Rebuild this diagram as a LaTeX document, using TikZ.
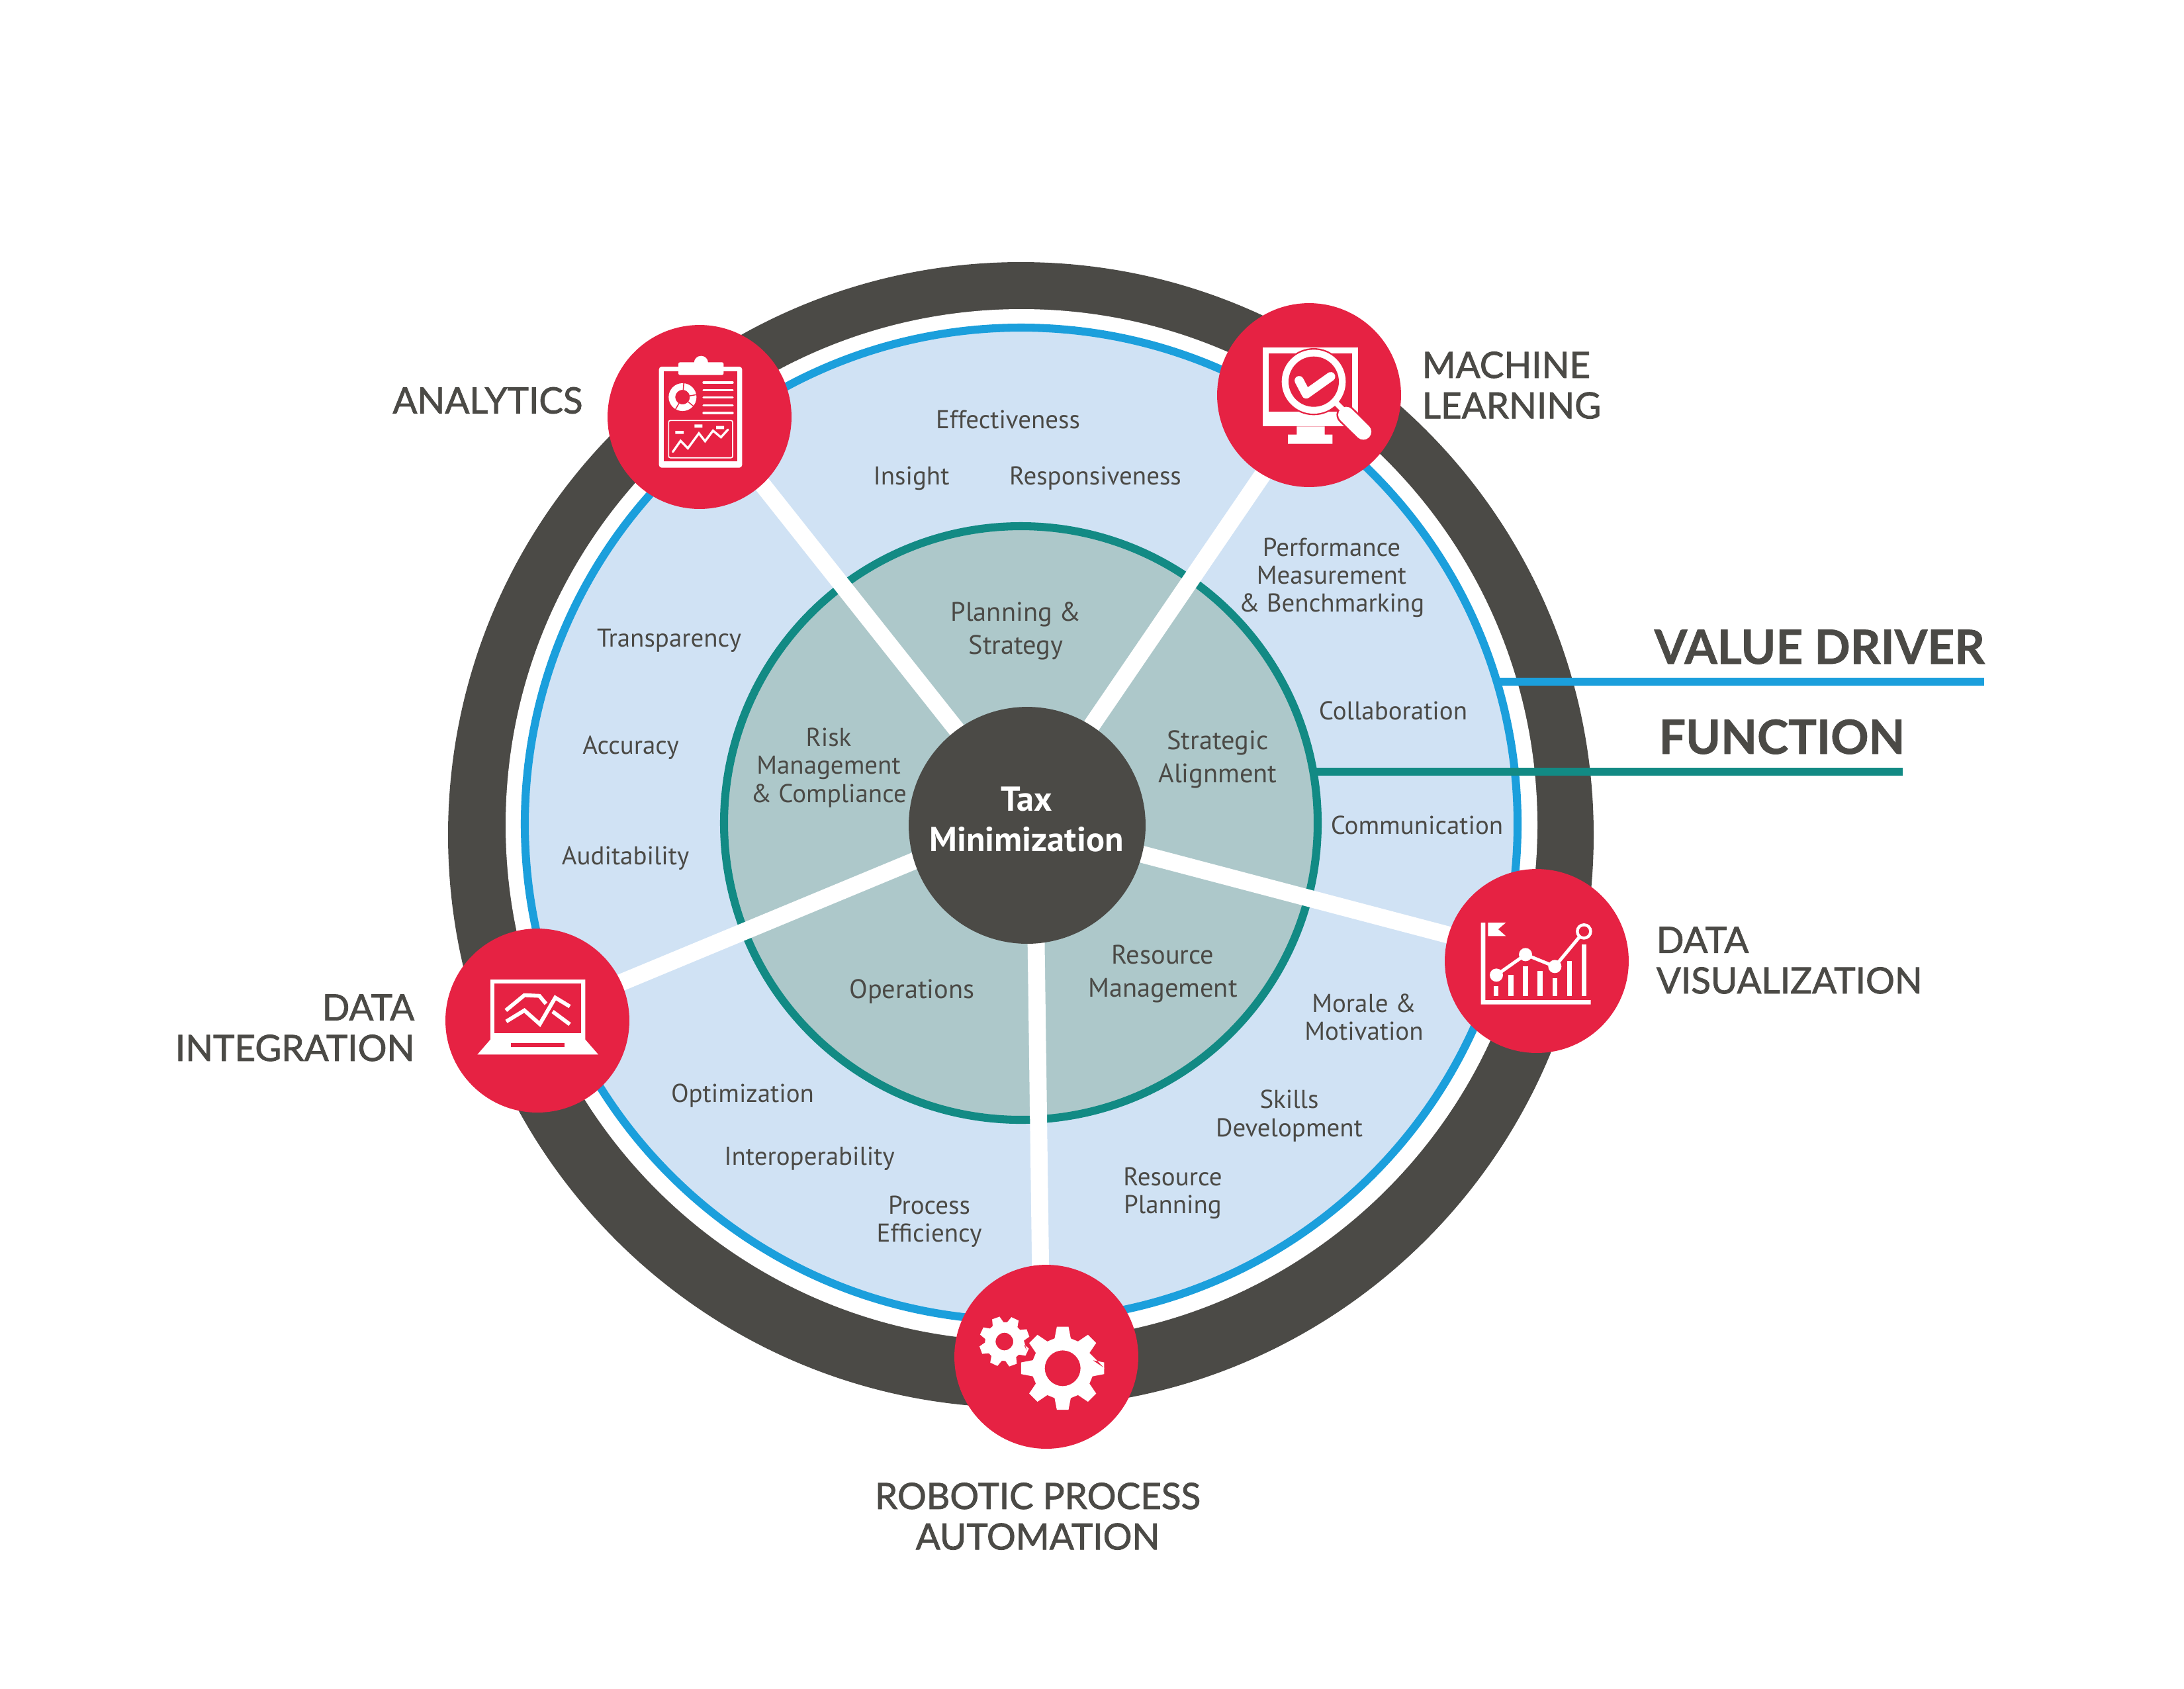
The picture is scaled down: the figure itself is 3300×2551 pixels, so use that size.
\documentclass[tikz,border=0pt]{standalone}
\usepackage{fontspec}
\setmainfont{PT Sans}
\newfontfamily\capfont[FakeBold=1.5]{Lato}
\newfontfamily\headfont[BoldFont={Lato Bold},BoldFeatures={FakeBold=1}]{Lato}
\definecolor{darkc}{HTML}{4B4A46}
\definecolor{redc}{HTML}{E62243}
\definecolor{bluec}{HTML}{1B9FDC}
\definecolor{lightc}{HTML}{D0E2F4}
\definecolor{tealc}{HTML}{128A84}
\definecolor{teallight}{HTML}{ADC8CA}
\tikzset{
 smalltxt/.style={text=darkc,inner sep=0pt,align=center,font=\fontsize{9.35}{10.1}\selectfont},
 funtxt/.style={text=darkc,inner sep=0pt,align=center,font=\fontsize{9.7}{12}\selectfont},
 captxt/.style={text=darkc,inner sep=0pt,font=\capfont\fontsize{13.15}{14.7}\selectfont},
 headtxt/.style={text=darkc,inner sep=0pt,font=\headfont\bfseries\fontsize{17.1}{18}\selectfont},
 spoke/.style={white,line width=6.2pt},
 redball/.style={circle,fill=redc,minimum size=66.7pt,inner sep=0pt,draw=none},
}
\newcommand{\geartooth}[5]{%
 \fill[white,even odd rule] (#1:#2)
 \foreach \k in {0,45,...,315}{
  -- ({\k+#1-#5*1.9}:#3) -- ({\k+#1-#5}:#2) -- ({\k+#1+#5}:#2) -- ({\k+#1+#5*1.9}:#3)
 } -- cycle (0:#4) arc[start angle=0,end angle=360,radius=#4];
}
\begin{document}
\begin{tikzpicture}[x=0.24pt,y=-0.24pt]
\useasboundingbox (0,0) rectangle (3300,2551);
% rings
\fill[darkc] (1542.5,1261.5) circle[radius=865.5];
\fill[white] (1543.5,1246.5) circle[radius=779.5];
\draw[bluec,fill=lightc,line width=2.9pt] (1543,1245) circle[radius=750];
% function disk
\draw[tealc,fill=teallight,line width=2.9pt] (1542.5,1243.5) circle[radius=448.5];
% spokes
\coordinate (sa1) at (1071,630); \coordinate (sa2) at (1499,1170);
\coordinate (sb1) at (1988,600); \coordinate (sb2) at (1599,1170);
\coordinate (sc1) at (2300,1442); \coordinate (sc2) at (1700,1284);
\coordinate (sd1) at (1574,2050); \coordinate (sd2) at (1565.5,1420);
\coordinate (se1) at (800,1542); \coordinate (se2) at (1400,1293);
\draw[spoke] (sa1)--(sa2);
\draw[spoke] (sb1)--(sb2);
\draw[spoke] (sc1)--(sc2);
\draw[spoke] (sd1)--(sd2);
\draw[spoke] (se1)--(se2);
% legend lines
\coordinate (vd) at (2998,1030); \coordinate (fn) at (2875,1166);
\coordinate (vs) at (2266,1030); \coordinate (fs) at (1989,1166);
\draw[bluec,line width=3.1pt] (vs)--(vd);
\draw[tealc,line width=3.1pt] (fs)--(fn);
% centre
\node[circle,fill=darkc,minimum size=85.9pt,inner sep=0pt] (tax) at (1552,1247) {};
\node[text=white,align=center,inner sep=0pt,font=\bfseries\fontsize{12.55}{14.7}\selectfont] (taxl) at (1551,1238) {Tax\\Minimization};
% red balls
\node[redball] (ana) at (1057,630) {};
\node[redball] (ml) at (1978,597) {};
\node[redball] (viz) at (2322,1452) {};
\node[redball] (rpa) at (1581,2050) {};
\node[redball] (int) at (812,1542) {};
% Analytics icon
\begin{scope}[shift={(900,480)},x=0.08pt,y=-0.08pt]
\fill[white,rounded corners=1pt] (287,222) rectangle (664,680);
\fill[redc] (309,244) rectangle (642,650);
\fill[white,rounded corners=0.6pt] (375,202) rectangle (580,260);
\fill[white] (478,205) circle[radius=32];
\draw[white,line width=2.4pt] (394,360) circle[radius=48];
\draw[redc,line width=0.35pt] (394,360) +(-85:32)--+(-85:66) +(-10:32)--+(-10:66) +(40:32)--+(40:66) +(120:32)--+(120:66);
\foreach \yy in {294,328,362,397,432} \draw[white,line width=0.8pt,line cap=round] (489,\yy)--(621,\yy);
\draw[white,line width=0.4pt,rounded corners=0.6pt] (331,466) rectangle (621,635);
\fill[white] (361,513) rectangle (399,527) (448,484) rectangle (484,498) (546,491) rectangle (582,505);
\draw[white,line width=0.8pt,line cap=round] (350,608)--(385,558)--(418,592)--(468,524)--(496,560)--(532,512)--(568,542)--(600,507);
\end{scope}
% ML icon
\begin{scope}[shift={(1830,450)},x=0.08pt,y=-0.08pt]
\fill[white] (234,226) rectangle (666,583);
\fill[redc] (260,251) rectangle (640,517);
\fill[white] (388,583) rectangle (515,620) (348,620) rectangle (550,662);
\fill[redc] (465,380) circle[radius=152];
\draw[redc,line width=7pt,line cap=round] (612,530)--(690,607);
\fill[white] (465,380) circle[radius=145];
\fill[redc] (465,380) circle[radius=114];
\draw[white,line width=2pt] (560,470)--(620,530);
\draw[white,line width=5.8pt,line cap=round] (612,530)--(690,607);
\draw[white,line width=3.3pt,line cap=round,line join=round] (399,375)--(431,436)--(542,357);
\end{scope}
% Viz icon
\begin{scope}[shift={(2170,1300)},x=0.08pt,y=-0.08pt]
\fill[white] (203,282) rectangle (223,653) (203,633) rectangle (701,653);
\fill[white] (235,282)--(316,282)--(281,312)--(316,343)--(235,343)--cycle;
\foreach \xx/\tp in {272/570,339/520,405/481,471/500,538/533,604/457,670/381}
  \fill[white] (\xx-11,\tp) rectangle (\xx+11,614);
\draw[white,line width=1.2pt] (273,520)--(405,427)--(538,481)--(670,322);
\fill[white] (273,520) circle[radius=30] (405,427) circle[radius=30] (538,481) circle[radius=30];
\fill[white] (670,322) circle[radius=37];
\fill[redc] (670,322) circle[radius=23];
\end{scope}
% Gears
\begin{scope}[shift={(1430,1900)},x=0.08pt,y=-0.08pt]
\begin{scope}[shift={(527,502)}]\geartooth{0}{190}{140}{81}{8}\end{scope}
\begin{scope}[shift={(263,381)}]\geartooth{25}{115}{88}{40}{9}\end{scope}
\end{scope}
% Laptop
\begin{scope}[shift={(660,1400)},x=0.08pt,y=-0.08pt]
\fill[white] (243,240)--(673,240)--(673,512)--(732,580)--(184,580)--(243,512)--cycle;
\fill[redc] (262,259) rectangle (654,483);
\fill[redc] (336,527) rectangle (580,547);
\draw[white,line width=1.4pt] (313,380)--(397,311)--(465,314)--(495,350);
\draw[white,line width=1.4pt] (315,430)--(397,380)--(467,442)--(537,322)--(603,362);
\draw[white,line width=1.4pt] (525,385)--(603,443);
\end{scope}
% value driver labels
\node[smalltxt] (t1) at (1523,634) {Effectiveness};
\node[smalltxt] (t2) at (1377,723) {Insight};
\node[smalltxt] (t3) at (1655,723) {Responsiveness};
\node[smalltxt] (t4) at (2012,873) {Performance\\Measurement\\\&\ Benchmarking};
\node[smalltxt] (t5) at (2105,1074) {Collaboration};
\node[smalltxt] (t6) at (2141,1247) {Communication};
\node[smalltxt] (t7) at (2061,1537) {Morale \&\\Motivation};
\node[smalltxt] (t8) at (1948,1686) {Skills\\Development};
\node[smalltxt] (t9) at (1772,1803) {Resource\\Planning};
\node[smalltxt] (t10) at (1404,1846) {Process\\Efficiency};
\node[smalltxt] (t11) at (1223,1751) {Interoperability};
\node[smalltxt] (t12) at (1122,1655) {Optimization};
\node[smalltxt] (t13) at (945,1297) {Auditability};
\node[smalltxt] (t14) at (953,1130) {Accuracy};
\node[smalltxt] (t15) at (1011,968) {Transparency};
% function labels
\node[funtxt] (f1) at (1535,953) {Planning \&\\Strategy};
\node[funtxt] (f2) at (1840,1147) {Strategic\\Alignment};
\node[funtxt] (f3) at (1757,1471) {Resource\\Management};
\node[funtxt] (f4) at (1378,1498) {Operations};
\node[smalltxt] (f5) at (1252,1160) {Risk\\Management\\\&\ Compliance};
% caps labels
\node[captxt] (c1) at (737,605) {ANALYTICS};
\node[captxt,align=left,anchor=west] (c2) at (2148,582) {MACHINE\\LEARNING};
\node[captxt,align=left,anchor=west] (c3) at (2502,1451) {DATA\\VISUALIZATION};
\node[captxt,align=right,anchor=east] (c4) at (627,1553) {DATA\\INTEGRATION};
\node[captxt,align=center] (c5) at (1568,2291) {ROBOTIC PROCESS\\AUTOMATION};
\node[headtxt,anchor=base west] (h1) at (2499,1003) {VALUE DRIVER};
\node[headtxt,anchor=base west] (h2) at (2506,1139) {FUNCTION};
\end{tikzpicture}
\end{document}
